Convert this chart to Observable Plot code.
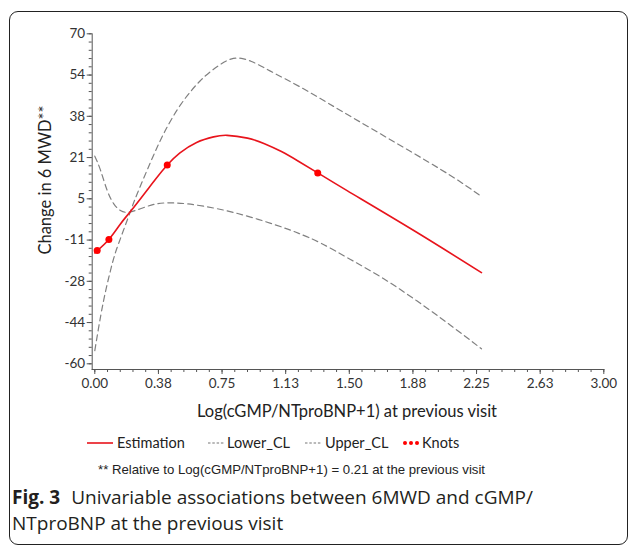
<!DOCTYPE html>
<html><head><meta charset="utf-8">
<script src="https://cdn.jsdelivr.net/npm/d3@7"></script>
<script src="https://cdn.jsdelivr.net/npm/@observablehq/plot@0.6"></script>
<style>
html,body{margin:0;padding:0;background:#fff;}
body{width:629px;height:545px;overflow:hidden;position:relative;font-family:Lato,sans-serif;}
#box{position:absolute;left:9px;top:11px;width:619px;height:534px;box-sizing:border-box;border:1.5px solid #222;border-radius:9px;}
#chart{position:absolute;left:0;top:0;}
.sw{position:absolute;top:440px;}
.lt{position:absolute;top:435px;font-family:Lato,sans-serif;font-size:14.5px;color:#222;white-space:nowrap;line-height:16px;}
#foot{position:absolute;left:98px;top:462px;font-family:"Liberation Sans",Arial,sans-serif;font-size:13.2px;color:#222;white-space:nowrap;}
#cap{position:absolute;left:12px;top:484px;font-family:"Open Sans",sans-serif;font-size:19px;line-height:26px;color:#231f20;white-space:nowrap;}
#cap b{font-weight:700;margin-right:11px}
</style>
</head><body>
<div id="box"></div>
<div id="chart"></div>
<svg class="sw" style="left:87px" width="26" height="6"><line x1="0" x2="26" y1="3" y2="3" stroke="#e8141c" stroke-width="1.6"/></svg>
<div class="lt" style="left:117px">Estimation</div>
<svg class="sw" style="left:208px" width="16" height="6"><line x1="0" x2="16" y1="3" y2="3" stroke="#777" stroke-width="1.2" stroke-dasharray="2.5,1.8"/></svg>
<div class="lt" style="left:227px">Lower_CL</div>
<svg class="sw" style="left:305px" width="16" height="6"><line x1="0" x2="16" y1="3" y2="3" stroke="#777" stroke-width="1.2" stroke-dasharray="2.5,1.8"/></svg>
<div class="lt" style="left:325px">Upper_CL</div>
<svg class="sw" style="left:403px" width="16" height="6"><circle cx="2" cy="3" r="2" fill="red"/><circle cx="8" cy="3" r="2" fill="red"/><circle cx="14" cy="3" r="2" fill="red"/></svg>
<div class="lt" style="left:422px">Knots</div>
<div id="foot">** Relative to Log(cGMP/NTproBNP+1) = 0.21 at the previous visit</div>
<div id="cap"><b>Fig. 3</b>Univariable associations between 6MWD and cGMP/<br>NTproBNP at the previous visit</div>
<script>
// ---- data ----
const estX = [0, 0.014, 0.083, 0.15, 0.21, 0.3, 0.36, 0.427, 0.5, 0.6, 0.7, 0.78, 0.9, 1.0, 1.1, 1.2, 1.314, 1.487, 1.88, 2.279];
const estY = [-16.3, -15.4, -11.0, -5.0, 0, 7.7, 12.9, 18.3, 23.0, 27.2, 29.4, 30.0, 28.9, 26.7, 23.6, 19.8, 15.2, 8.2, -7.5, -24.1];

const lowerX = [0, 0.034, 0.073, 0.112, 0.151, 0.2, 0.269, 0.348, 0.427, 0.545, 0.721, 0.918, 1.114, 1.212, 1.33, 1.507, 1.703, 1.9, 2.096, 2.279];
const lowerY = [21.8, 16.2, 8.3, 3.0, 0.4, -0.3, 1.1, 2.8, 3.4, 3.0, 1.1, -2.2, -6.4, -8.9, -12.4, -18.9, -26.5, -35.3, -44.8, -54.1];

const upperX = [0, 0.035, 0.069, 0.105, 0.141, 0.21, 0.25, 0.329, 0.405, 0.505, 0.623, 0.72, 0.817, 0.92, 1.035, 1.212, 1.448, 1.801, 2.096, 2.279];
const upperY = [-54.8, -41, -29.8, -20, -12.5, 0, 7, 19.5, 30.5, 42, 51.6, 57, 60.3, 59.2, 55.3, 49.0, 39.8, 26, 14.2, 5.9];

const knotX = [0.014, 0.083, 0.427, 1.314];
const knotY = [-15.4, -11.0, 18.3, 15.2];

const xTicks = [0, 0.375, 0.75, 1.125, 1.5, 1.875, 2.25, 2.625, 3];
const xTickLabels = ["0.00", "0.38", "0.75", "1.13", "1.50", "1.88", "2.25", "2.63", "3.00"];
const yTicks = [-60, -43.75, -27.5, -11.25, 5, 21.25, 37.5, 53.75, 70];
const yTickLabels = ["-60", "-44", "-28", "-11", "5", "21", "38", "54", "70"];

const xLabel = "Log(cGMP/NTproBNP+1) at previous visit";
const yLabel = "Change in 6 MWD**";

// ---- tables ----
const est = estX.map((x, i) => ({x, y: estY[i]}));
const lower = lowerX.map((x, i) => ({x, y: lowerY[i]}));
const upper = upperX.map((x, i) => ({x, y: upperY[i]}));
const knots = knotX.map((x, i) => ({x, y: knotY[i]}));
const xMinor = d3.range(0, 3.0001, 0.075);
const yMinor = d3.range(-60, 70.001, 3.25);

const W = 629, H = 430;
const chart = Plot.plot({
  width: W, height: H,
  marginLeft: 91.7, marginRight: 25.7, marginTop: 33.3, marginBottom: 61,
  x: {domain: [0, 3], insetLeft: 2.6},
  y: {domain: [-60, 70], insetBottom: 5.7},
  style: {fontFamily: "Lato, sans-serif", fontSize: "13.5px", color: "#333", background: "transparent"},
  marks: [
    Plot.frame({anchor: "left", stroke: "#555"}),
    Plot.frame({anchor: "bottom", stroke: "#555"}),
    Plot.axisX({ticks: xMinor, tickSize: 3, tickFormat: () => "", label: null, stroke: "#555"}),
    Plot.axisY({ticks: yMinor, tickSize: 3, tickFormat: () => "", label: null, stroke: "#555"}),
    Plot.axisX({ticks: xTicks, tickSize: 5, tickPadding: 4, tickFormat: d => xTickLabels[xTicks.indexOf(d)], label: null, stroke: "#555", fill: "#333"}),
    Plot.axisY({ticks: yTicks, tickSize: 5, tickPadding: 2, tickFormat: d => yTickLabels[yTicks.indexOf(d)], label: null, stroke: "#555", fill: "#333"}),
    Plot.line(lower, {x: "x", y: "y", stroke: "#808080", strokeWidth: 1.2, strokeDasharray: "6,4", curve: "natural"}),
    Plot.line(upper, {x: "x", y: "y", stroke: "#808080", strokeWidth: 1.2, strokeDasharray: "6,4", curve: "natural"}),
    Plot.line(est, {x: "x", y: "y", stroke: "#e8141c", strokeWidth: 1.6, curve: "natural"}),
    Plot.dot(knots, {x: "x", y: "y", r: 3.5, fill: "red", stroke: "none"})
  ]
});
const svg = d3.select(chart);
svg.append("text").attr("x", 347).attr("y", 411).attr("text-anchor", "middle").attr("dominant-baseline", "central")
  .attr("font-family", "Lato, sans-serif").attr("font-size", "16.5px").attr("fill", "#222").text(xLabel);
svg.append("text").attr("transform", "translate(45,180) rotate(-90)").attr("text-anchor", "middle").attr("dominant-baseline", "central")
  .attr("font-family", "Lato, sans-serif").attr("font-size", "16.5px").attr("fill", "#222").text(yLabel);
document.getElementById("chart").appendChild(chart);
</script>
</body></html>
